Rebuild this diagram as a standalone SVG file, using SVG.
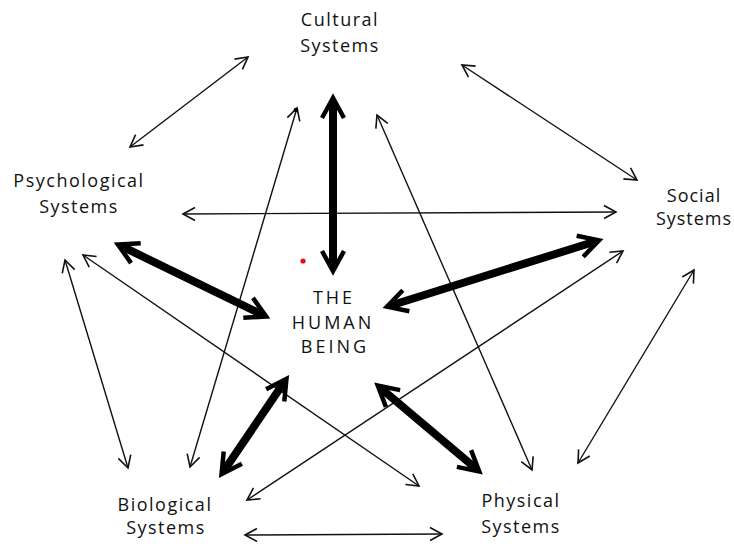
<svg xmlns="http://www.w3.org/2000/svg" width="734" height="547" viewBox="0 0 734 547">
<style>
  text { font-family: "Open Sans", "Liberation Sans", sans-serif; font-size: 18px; fill: #111; text-anchor: middle; letter-spacing: 1.5px; }
  .core { letter-spacing: 3px; }
  .tight { letter-spacing: 1px; }
  .thin { stroke: #111; stroke-width: 1.4; fill: none; marker-start: url(#ah); marker-end: url(#ah); }
  .thick { stroke: #000; stroke-width: 8; fill: none; marker-start: url(#ahb); marker-end: url(#ahb); }
</style>
<defs>
  <marker id="ah" viewBox="-16 -10 20 20" refX="0" refY="0" markerWidth="20" markerHeight="20" markerUnits="userSpaceOnUse" orient="auto-start-reverse">
    <path d="M-12,-6.5 L0,0 L-12,6.5" fill="none" stroke="#111" stroke-width="1.6"/>
  </marker>
  <marker id="ahb" viewBox="-22 -16 32 32" refX="0" refY="0" markerWidth="32" markerHeight="32" markerUnits="userSpaceOnUse" orient="auto-start-reverse">
    <path d="M-16,-11 L4,0 L-16,11" fill="none" stroke="#000" stroke-width="4.5"/>
    <path d="M-6,-4 L5,0 L-6,4 Z" fill="#000"/>
  </marker>
</defs>
<rect width="734" height="547" fill="#fff"/>

<g id="connectors">
  <line class="thin" x1="130" y1="147" x2="248" y2="57"/>
  <line class="thin" x1="462" y1="65" x2="637" y2="180"/>
  <line class="thin" x1="183" y1="214" x2="616" y2="212"/>
  <line class="thin" x1="297" y1="108" x2="190" y2="467"/>
  <circle cx="296" cy="110" r="2.3" fill="#000"/>
  <line class="thin" x1="377" y1="115" x2="532" y2="470"/>
  <line class="thin" x1="65" y1="260" x2="128" y2="468"/>
  <line class="thin" x1="83" y1="255" x2="419" y2="486"/>
  <line class="thin" x1="623" y1="251" x2="247" y2="500"/>
  <line class="thin" x1="694" y1="270" x2="578" y2="463"/>
  <line class="thin" x1="245" y1="535" x2="442" y2="534"/>
  <line class="thick" x1="333" y1="102" x2="333" y2="267"/>
  <line class="thick" x1="121.5" y1="246.2" x2="262.5" y2="314.8"/>
  <line class="thick" x1="595.2" y1="241.5" x2="390.8" y2="305.5"/>
  <line class="thick" x1="284.2" y1="382.1" x2="223.8" y2="470.9"/>
  <line class="thick" x1="380.8" y1="388.2" x2="476.2" y2="468.8"/>
</g>

<circle cx="303" cy="261" r="2.6" fill="#e01010"/>

<g id="cultural">
  <text x="340" y="26">Cultural</text>
  <text x="340" y="52">Systems</text>
</g>
<g id="psychological">
  <text x="79" y="187">Psychological</text>
  <text x="79" y="213">Systems</text>
</g>
<g id="social">
  <text class="tight" x="694" y="202">Social</text>
  <text class="tight" x="694" y="225">Systems</text>
</g>
<g id="human">
  <text class="core" x="334" y="304">THE</text>
  <text class="core" x="333" y="329">HUMAN</text>
  <text class="core" x="335" y="353">BEING</text>
</g>
<g id="biological">
  <text x="165" y="511">Biological</text>
  <text x="166" y="534">Systems</text>
</g>
<g id="physical">
  <text x="521" y="507">Physical</text>
  <text x="521" y="533">Systems</text>
</g>
</svg>
